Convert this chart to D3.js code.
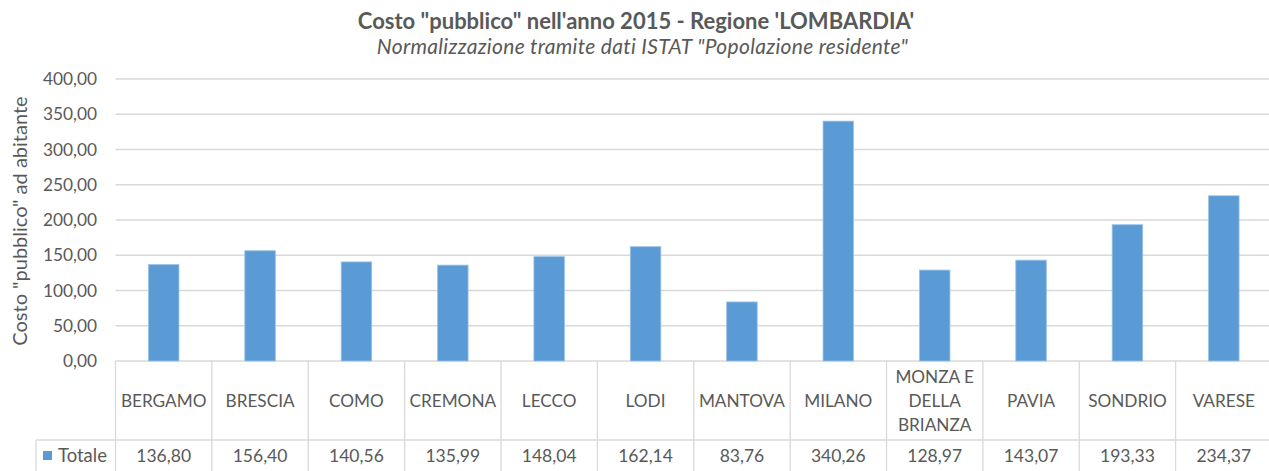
<!DOCTYPE html>
<html>
<head>
<meta charset="utf-8">
<script src="https://cdnjs.cloudflare.com/ajax/libs/d3/7.8.5/d3.min.js"></script>
<style>
  body { margin: 0; background: #fff; }
  svg text { font-family: Lato, "Open Sans", sans-serif; fill: #595959; }
</style>
</head>
<body>
<div id="chart-area"></div>
<script>

// Data
var provinces = ["BERGAMO", "BRESCIA", "COMO", "CREMONA", "LECCO", "LODI", "MANTOVA",
    "MILANO", "MONZA E DELLA BRIANZA", "PAVIA", "SONDRIO", "VARESE"];
var costPerCapita = [136.80, 156.40, 140.56, 135.99, 148.04, 162.14, 83.76,
    340.26, 128.97, 143.07, 193.33, 234.37];
var yTicks = [0, 50, 100, 150, 200, 250, 300, 350, 400];
var seriesName = "Totale";

// label lines for the long category names
var labelLines = {
    "MONZA E DELLA BRIANZA": ["MONZA E", "DELLA", "BRIANZA"]
};

var itFormat = d3.formatLocale({ decimal: ",", thousands: ".", grouping: [3], currency: ["€", ""] }).format(".2f");


CostChart = function(_parentElement, _cats, _values) {
    this.parentElement = _parentElement;
    this.cats = _cats;
    this.values = _values;
    this.initVis();
};

CostChart.prototype.initVis = function() {
    var vis = this;

    vis.width = 1269;
    vis.height = 471;

    vis.svg = d3.select("#" + vis.parentElement).append("svg")
        .attr("width", vis.width)
        .attr("height", vis.height);

    // plot area (right edge runs a little past the picture, like the original)
    vis.plotLeft = 115.5;
    vis.plotRight = 1272;
    vis.plotTop = 79;
    vis.plotBottom = 361;
    vis.tableMid = 440;

    vis.x = d3.scaleBand()
        .domain(vis.cats)
        .range([vis.plotLeft, vis.plotRight]);

    vis.y = d3.scaleLinear()
        .domain([0, 400])
        .range([vis.plotBottom, vis.plotTop]);

    // Titles
    vis.svg.append("text")
        .attr("x", 636)
        .attr("y", 29)
        .attr("text-anchor", "middle")
        .style("font-size", "22px")
        .style("font-weight", "bold")
        .text("Costo \"pubblico\" nell'anno 2015 - Regione 'LOMBARDIA'");

    vis.svg.append("text")
        .attr("x", 642.5)
        .attr("y", 54)
        .attr("text-anchor", "middle")
        .style("font-size", "21px")
        .style("font-style", "italic")
        .style("letter-spacing", "0.3px")
        .text("Normalizzazione tramite dati ISTAT \"Popolazione residente\"");

    vis.svg.append("text")
        .attr("transform", "translate(27,221) rotate(-90)")
        .attr("text-anchor", "middle")
        .style("font-size", "20px")
        .text("Costo \"pubblico\" ad abitante");

    vis.updateVis();
};

CostChart.prototype.updateVis = function() {
    var vis = this;

    // gridlines
    vis.svg.selectAll("line.grid")
        .data(yTicks)
        .enter()
        .append("line")
        .attr("class", "grid")
        .attr("x1", vis.plotLeft)
        .attr("x2", vis.plotRight)
        .attr("y1", function(d) { return vis.y(d); })
        .attr("y2", function(d) { return vis.y(d); })
        .attr("stroke", "#d9d9d9")
        .attr("stroke-width", 1.3);

    // y tick labels
    vis.svg.selectAll("text.ytick")
        .data(yTicks)
        .enter()
        .append("text")
        .attr("class", "ytick")
        .attr("x", 97)
        .attr("y", function(d) { return vis.y(d); })
        .attr("dy", "0.35em")
        .attr("text-anchor", "end")
        .style("font-size", "17.3px")
        .text(function(d) { return itFormat(d); });

    // bars
    var barW = vis.x.bandwidth() * 0.317;
    vis.svg.selectAll("rect.bar")
        .data(vis.values)
        .enter()
        .append("rect")
        .attr("class", "bar")
        .attr("x", function(d, i) { return vis.x(vis.cats[i]) + vis.x.bandwidth() / 2 - barW / 2; })
        .attr("y", function(d) { return vis.y(d); })
        .attr("width", barW)
        .attr("height", function(d) { return vis.y(0) - vis.y(d); })
        .attr("fill", "#5b9bd5")
        .attr("stroke", "#9dc3e6")
        .attr("stroke-width", 0.8);

    // data table
    var grid = "#d9d9d9";
    vis.svg.append("line")
        .attr("x1", 36).attr("x2", vis.plotRight)
        .attr("y1", vis.tableMid).attr("y2", vis.tableMid)
        .attr("stroke", grid).attr("stroke-width", 1.3);
    vis.svg.append("line")
        .attr("x1", 36).attr("x2", 36)
        .attr("y1", vis.tableMid).attr("y2", vis.height)
        .attr("stroke", grid).attr("stroke-width", 1.3);

    var bounds = vis.cats.map(function(c) { return vis.x(c); });
    vis.svg.selectAll("line.tcol")
        .data(bounds)
        .enter()
        .append("line")
        .attr("class", "tcol")
        .attr("x1", function(d) { return d; })
        .attr("x2", function(d) { return d; })
        .attr("y1", vis.plotBottom)
        .attr("y2", vis.height)
        .attr("stroke", grid)
        .attr("stroke-width", 1.3);

    // category labels
    var catText = vis.svg.selectAll("text.cat")
        .data(vis.cats)
        .enter()
        .append("text")
        .attr("class", "cat")
        .attr("text-anchor", "middle")
        .style("font-size", "17.2px")
        .attr("x", function(d) { return vis.x(d) + vis.x.bandwidth() / 2; })
        .attr("y", 401);

    catText.each(function(d) {
        var lines = labelLines[d] || [d];
        var t = d3.select(this);
        lines.forEach(function(l, j) {
            t.append("tspan")
                .attr("x", vis.x(d) + vis.x.bandwidth() / 2)
                .attr("y", 401 + (j - (lines.length - 1) / 2) * 24)
                .attr("dy", "0.35em")
                .text(l);
        });
    });

    // value row
    vis.svg.selectAll("text.val")
        .data(vis.values)
        .enter()
        .append("text")
        .attr("class", "val")
        .attr("text-anchor", "middle")
        .attr("x", function(d, i) { return vis.x(vis.cats[i]) + vis.x.bandwidth() / 2; })
        .attr("y", 456)
        .attr("dy", "0.35em")
        .style("font-size", "17.5px")
        .text(function(d) { return itFormat(d); });

    // legend key + series name
    vis.svg.append("rect")
        .attr("x", 43).attr("y", 451)
        .attr("width", 9).attr("height", 9)
        .attr("fill", "#5b9bd5");
    vis.svg.append("text")
        .attr("x", 58).attr("y", 456)
        .attr("dy", "0.35em")
        .style("font-size", "18.5px")
        .text(seriesName);
};

var chart = new CostChart("chart-area", provinces, costPerCapita);
</script>
</body>
</html>
